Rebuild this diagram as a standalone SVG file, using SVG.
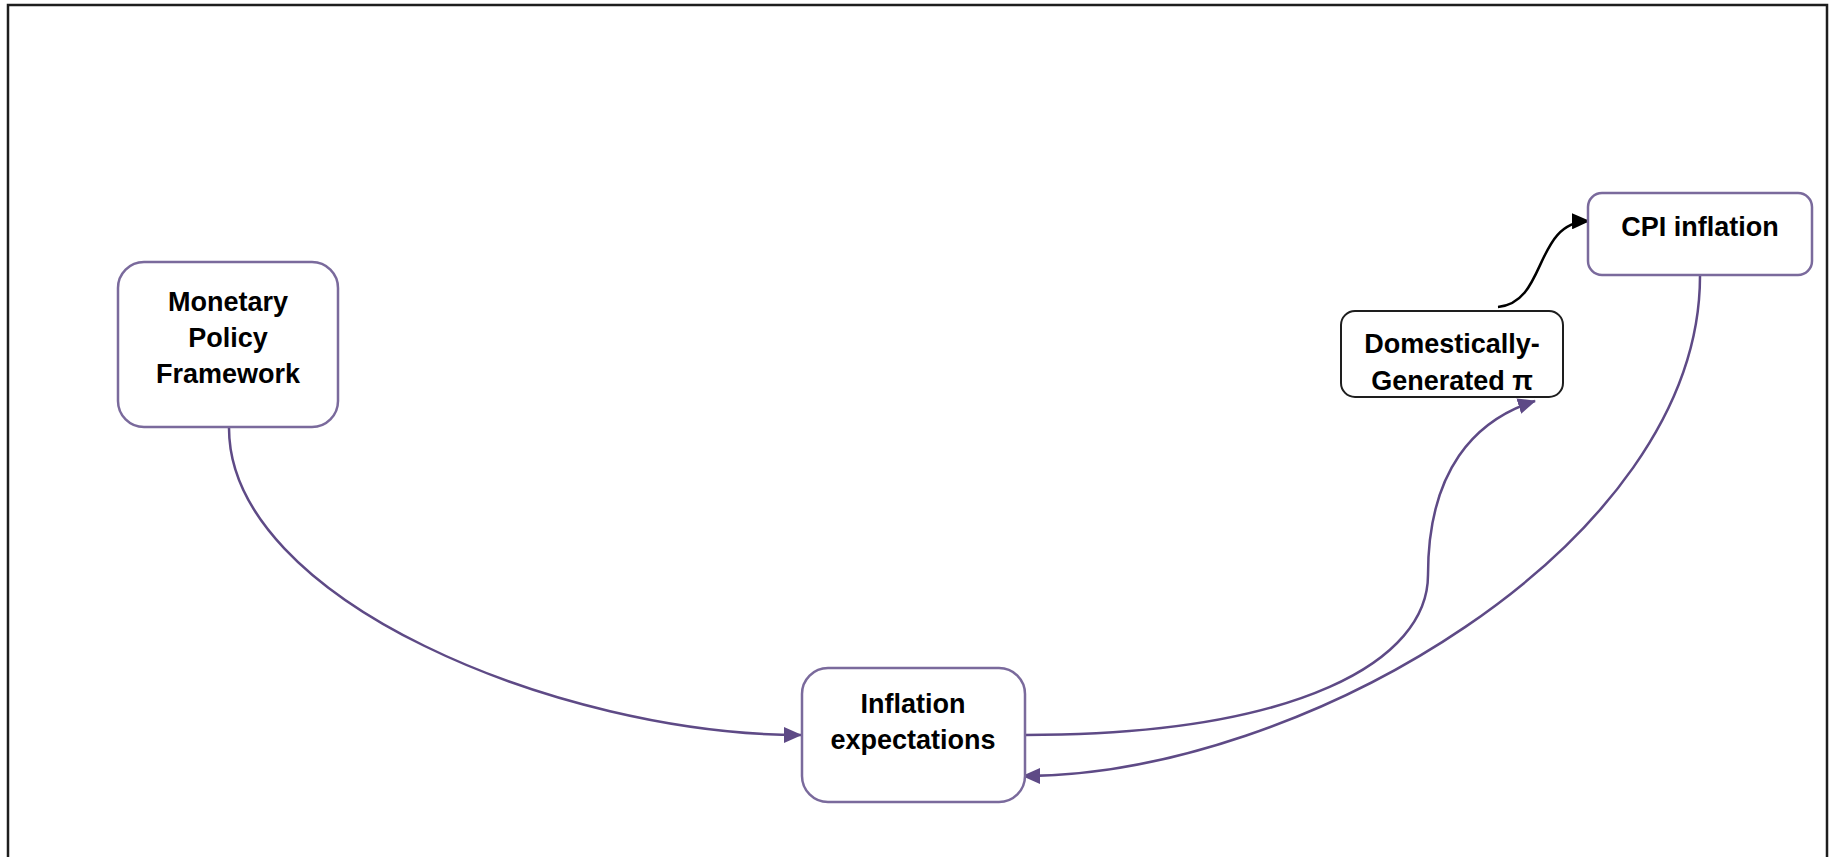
<svg xmlns="http://www.w3.org/2000/svg" width="1832" height="857" viewBox="0 0 1832 857">
  <style>
    .box { fill: #ffffff; stroke: #7a6a9c; stroke-width: 2.5; }
    .box-dark { fill: #ffffff; stroke: #1e1e1e; stroke-width: 2; }
    .label { font-family: "Liberation Sans", Arial, sans-serif; font-weight: bold; font-size: 27px; fill: #000000; text-anchor: middle; }
    .link { fill: none; stroke: #5e4a86; stroke-width: 2.5; }
    .link-dark { fill: none; stroke: #000000; stroke-width: 2.5; }
  </style>
  <defs>
    <marker id="arrow-purple" viewBox="0 0 18 16" refX="17" refY="8" markerWidth="18" markerHeight="16" markerUnits="userSpaceOnUse" orient="auto">
      <path d="M0,0 L18,8 L0,16 Z" fill="#5e4a86"/>
    </marker>
    <marker id="arrow-black" viewBox="0 0 18 16" refX="17" refY="8" markerWidth="18" markerHeight="16" markerUnits="userSpaceOnUse" orient="auto">
      <path d="M0,0 L18,8 L0,16 Z" fill="#000000"/>
    </marker>
  </defs>

  <rect width="1832" height="857" fill="#ffffff"/>
  <!-- outer frame, open at the bottom -->
  <path d="M8,857 V5 H1827 V857" fill="none" stroke="#1e1e1e" stroke-width="2.5"/>

  <g id="connectors">
    <path class="link" d="M229,428 C229,600 560,735 801,735" marker-end="url(#arrow-purple)"/>
    <path class="link" d="M1025,735 C1300,735 1428,660 1428,575 C1428,470 1475,420 1535,401" marker-end="url(#arrow-purple)"/>
    <path class="link" d="M1700,276 C1700,545 1300,776 1023,776" marker-end="url(#arrow-purple)"/>
    <path class="link-dark" d="M1498,307 C1548,302 1533,222 1589,221" marker-end="url(#arrow-black)"/>
  </g>

  <g id="monetary-policy-framework">
    <rect class="box" x="118" y="262" width="220" height="165" rx="26"/>
    <text class="label" x="228" y="311">Monetary</text>
    <text class="label" x="228" y="347">Policy</text>
    <text class="label" x="228" y="383">Framework</text>
  </g>

  <g id="inflation-expectations">
    <rect class="box" x="802" y="668" width="223" height="134" rx="26"/>
    <text class="label" x="913" y="713">Inflation</text>
    <text class="label" x="913" y="749">expectations</text>
  </g>

  <g id="domestically-generated">
    <rect class="box-dark" x="1341" y="311" width="222" height="86" rx="14"/>
    <text class="label" x="1452" y="353">Domestically-</text>
    <text class="label" x="1452" y="390">Generated π</text>
  </g>

  <g id="cpi-inflation">
    <rect class="box" x="1588" y="193" width="224" height="82" rx="14"/>
    <text class="label" x="1700" y="236">CPI inflation</text>
  </g>
</svg>
